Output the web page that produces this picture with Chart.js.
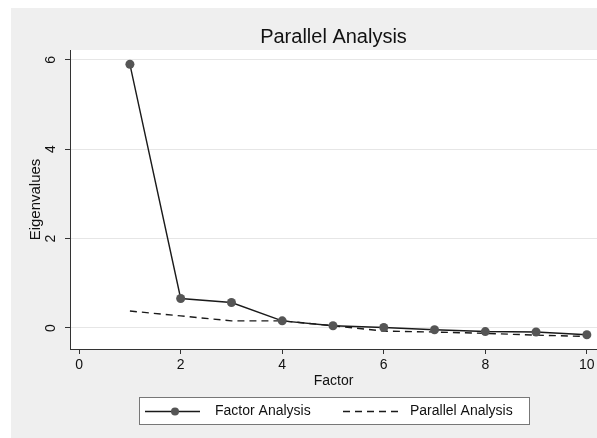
<!DOCTYPE html>
<html>
<head>
<meta charset="utf-8">
<script src="https://cdn.jsdelivr.net/npm/chart.js@4"></script>
<style>
  body { margin: 0; background: #fff; }
  #wrap { width: 597px; height: 438px; }
</style>
</head>
<body>
<div id="wrap"><canvas id="chart"></canvas></div>
<script>
const factors = [1, 2, 3, 4, 5, 6, 7, 8, 9, 10];
const factorAnalysis = [5.9, 0.66, 0.57, 0.16, 0.05, 0.01, -0.04, -0.08, -0.09, -0.15];
const parallelAnalysis = [0.38, 0.27, 0.16, 0.16, 0.05, -0.07, -0.09, -0.12, -0.16, -0.19];
const xTicks = [0, 2, 4, 6, 8, 10];
const yTicks = [0, 2, 4, 6];

const FONT = '"Liberation Sans", Arial, sans-serif';
const BG = '#efefef';
const POINT = '#555555';

// backgrounds, titles, rotated y labels, legend
const stataLook = {
  id: 'stataLook',
  beforeDraw(chart) {
    const ctx = chart.ctx;
    const a = chart.chartArea;
    ctx.save();
    ctx.fillStyle = '#fff';
    ctx.fillRect(0, 0, chart.width, chart.height);
    ctx.fillStyle = BG;
    ctx.fillRect(11, 8, chart.width - 11, chart.height - 8);
    ctx.fillStyle = '#fff';
    ctx.fillRect(a.left, a.top, a.right - a.left, a.bottom - a.top);
    ctx.restore();
  },
  afterDraw(chart) {
    const ctx = chart.ctx;
    const a = chart.chartArea;
    const y = chart.scales.y;
    ctx.save();
    ctx.fillStyle = '#111';

    // title
    ctx.font = '20px ' + FONT;
    ctx.textAlign = 'center';
    ctx.textBaseline = 'middle';
    ctx.fillText('Parallel Analysis', (a.left + a.right) / 2, 37);

    // x title
    ctx.font = '14px ' + FONT;
    ctx.fillText('Factor', (a.left + a.right) / 2, 381);

    // y tick labels, rotated like Stata
    y.ticks.forEach(t => {
      ctx.save();
      ctx.translate(51, y.getPixelForValue(t.value));
      ctx.rotate(-Math.PI / 2);
      ctx.fillText(String(t.value), 0, 0);
      ctx.restore();
    });

    // y title
    ctx.save();
    ctx.translate(36, (a.top + a.bottom) / 2);
    ctx.rotate(-Math.PI / 2);
    ctx.font = '15px ' + FONT;
    ctx.fillText('Eigenvalues', 0, 0);
    ctx.restore();

    // legend
    const lx = 139, ly = 397, lw = 390, lh = 27;
    const cy = ly + lh / 2 + 1;
    ctx.fillStyle = '#fff';
    ctx.fillRect(lx, ly, lw, lh);
    ctx.strokeStyle = '#777';
    ctx.lineWidth = 1;
    ctx.strokeRect(lx + 0.5, ly + 0.5, lw, lh);

    const ds = chart.data.datasets;
    ctx.strokeStyle = ds[0].borderColor;
    ctx.lineWidth = ds[0].borderWidth;
    ctx.beginPath();
    ctx.moveTo(145, cy);
    ctx.lineTo(200, cy);
    ctx.stroke();
    ctx.fillStyle = POINT;
    ctx.beginPath();
    ctx.arc(175, cy, 4, 0, Math.PI * 2);
    ctx.fill();

    ctx.strokeStyle = ds[1].borderColor;
    ctx.lineWidth = ds[1].borderWidth;
    ctx.setLineDash(ds[1].borderDash);
    ctx.beginPath();
    ctx.moveTo(343, cy);
    ctx.lineTo(402, cy);
    ctx.stroke();
    ctx.setLineDash([]);

    ctx.fillStyle = '#111';
    ctx.font = '14px ' + FONT;
    ctx.textAlign = 'left';
    ctx.fillText(ds[0].label, 215, cy);
    ctx.fillText(ds[1].label, 410, cy);
    ctx.restore();
  }
};

new Chart(document.getElementById('chart'), {
  type: 'line',
  data: {
    datasets: [
      {
        label: 'Factor Analysis',
        data: factors.map((f, i) => ({ x: f, y: factorAnalysis[i] })),
        borderColor: '#1a1a1a',
        borderWidth: 1.4,
        pointRadius: 4.5,
        pointBackgroundColor: POINT,
        pointBorderColor: POINT,
        pointBorderWidth: 0,
        tension: 0
      },
      {
        label: 'Parallel Analysis',
        data: factors.map((f, i) => ({ x: f, y: parallelAnalysis[i] })),
        borderColor: '#1a1a1a',
        borderWidth: 1.4,
        borderDash: [7, 5],
        pointRadius: 0,
        tension: 0
      }
    ]
  },
  options: {
    responsive: true,
    maintainAspectRatio: false,
    animation: false,
    layout: { autoPadding: false, padding: { top: 50, right: 0, bottom: 0, left: 0 } },
    plugins: {
      legend: { display: false },
      tooltip: { enabled: false }
    },
    scales: {
      x: {
        type: 'linear',
        min: -0.18,
        max: 10.2,
        afterBuildTicks: s => { s.ticks = xTicks.map(v => ({ value: v })); },
        afterFit: s => { s.height = 89; s.paddingLeft = 0; s.paddingRight = 0; },
        grid: { drawOnChartArea: false, drawTicks: true, tickLength: 5, tickColor: '#333' },
        border: { display: true, color: '#333', width: 1 },
        ticks: {
          color: '#111',
          padding: 3,
          maxRotation: 0,
          font: { family: FONT, size: 14 }
        }
      },
      y: {
        min: -0.47,
        max: 6.22,
        afterBuildTicks: s => { s.ticks = yTicks.map(v => ({ value: v })); },
        afterFit: s => { s.width = 70; s.paddingTop = 0; s.paddingBottom = 0; },
        grid: { color: '#e6e6e6', lineWidth: 1, drawTicks: true, tickLength: 5, tickColor: '#333' },
        border: { display: true, color: '#333', width: 1 },
        ticks: { display: false }
      }
    }
  },
  plugins: [stataLook]
});
</script>
</body>
</html>
